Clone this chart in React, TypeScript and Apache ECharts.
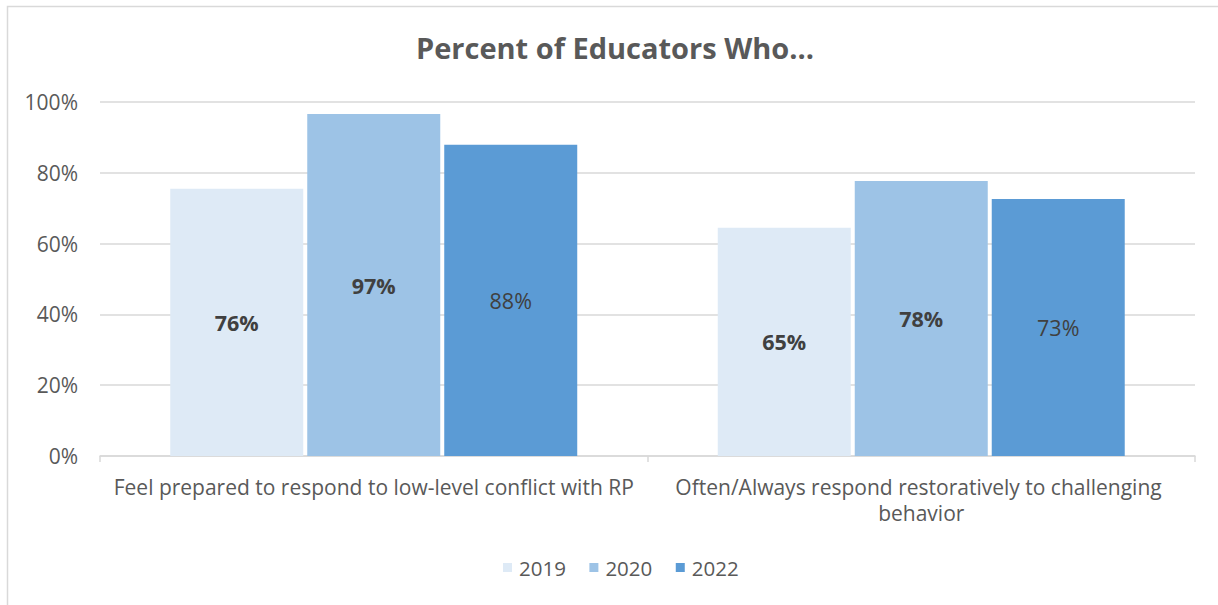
import React, { useEffect, useRef } from "react";
import * as echarts from "echarts";

const categories = [
  "Feel prepared to respond to low-level conflict with RP",
  "Often/Always respond restoratively to challenging behavior",
];
const seriesNames = ["2019", "2020", "2022"];
const values2019 = [75.5, 64.5];
const values2020 = [96.6, 77.7];
const values2022 = [87.9, 72.6];
const yTicks = [0, 20, 40, 60, 80, 100];

const colors = ["#DEEAF6", "#9DC3E6", "#5B9BD5"];
const boldLabels = [true, true, false];
const FONT = "'Open Sans', 'Liberation Sans', sans-serif";

export default function App() {
  const ref = useRef<HTMLDivElement>(null);
  useEffect(() => {
    document.body.style.margin = "0";
    const chart = echarts.init(ref.current!, undefined, { renderer: "svg" });
    const data = [values2019, values2020, values2022];
    chart.setOption({
      animation: false,
      backgroundColor: "#ffffff",
      textStyle: { fontFamily: FONT },
      title: {
        text: "Percent of Educators Who...",
        left: 416,
        top: 33,
        padding: 0,
        textStyle: { fontFamily: FONT, fontSize: 29, fontWeight: "bold", color: "#595959" },
      },
      graphic: [
        {
          type: "rect",
          shape: { x: 7.5, y: 6.5, width: 1230, height: 620 },
          style: { fill: "none", stroke: "#D9D9D9", lineWidth: 1.5 },
          silent: true,
        },
      ],
      legend: {
        data: seriesNames,
        bottom: 22,
        left: 498,
        itemWidth: 9,
        itemHeight: 9,
        itemGap: 23.5,
        icon: "rect",
        textStyle: { fontFamily: FONT, fontSize: 20.5, color: "#595959", padding: [0, 0, 0, 2] },
      },
      grid: { left: 100, right: 23, top: 102, bottom: 149 },
      xAxis: {
        type: "category",
        data: categories,
        axisLine: { show: true, lineStyle: { color: "#D9D9D9", width: 1.5 } },
        axisTick: { show: true, length: 6, lineStyle: { color: "#D9D9D9", width: 1.5 } },
        axisLabel: {
          interval: 0,
          fontFamily: FONT,
          fontSize: 21,
          color: "#595959",
          margin: 18,
          width: 545,
          overflow: "break",
          lineHeight: 26,
        },
      },
      yAxis: {
        type: "value",
        min: yTicks[0],
        max: yTicks[yTicks.length - 1],
        interval: 20,
        axisLine: { show: false },
        axisTick: { show: false },
        splitLine: { lineStyle: { color: "#D9D9D9", width: 1.5 } },
        axisLabel: {
          fontFamily: FONT,
          fontSize: 21,
          color: "#595959",
          margin: 22,
          formatter: (v: number) => v + "%",
        },
      },
      series: seriesNames.map((name, i) => ({
        name,
        type: "bar",
        data: data[i],
        barWidth: 133,
        barGap: "3%",
        itemStyle: { color: colors[i] },
        label: {
          show: true,
          position: "inside",
          fontFamily: FONT,
          fontSize: 21.5,
          fontWeight: boldLabels[i] ? "bold" : "normal",
          color: "#404040",
          formatter: (p: any) => Math.round(p.value) + "%",
        },
      })),
    });
    return () => chart.dispose();
  }, []);
  return <div ref={ref} style={{ width: 1218, height: 605 }} />;
}
